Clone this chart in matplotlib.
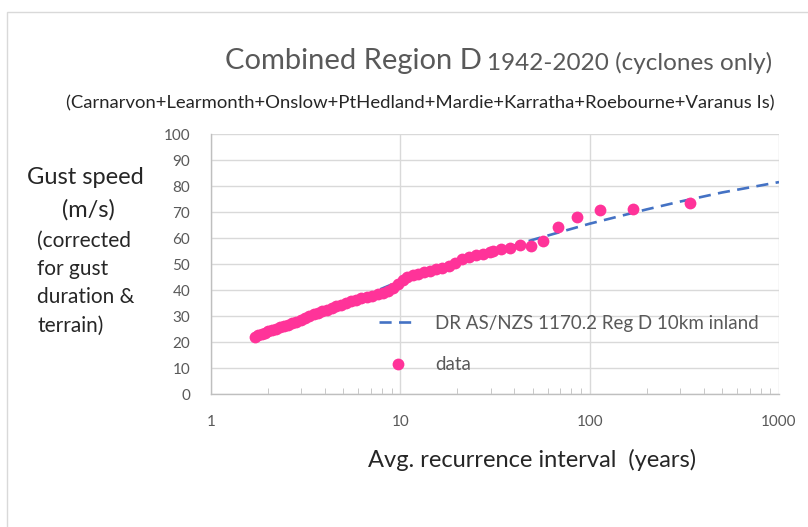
import numpy as np
import matplotlib
matplotlib.use('Agg')
import matplotlib.pyplot as plt
from matplotlib.patches import Rectangle

plt.rcParams['font.family'] = ['Lato', 'DejaVu Sans']

# data (ARI in years, gust speed m/s)
ari = [1.71, 1.78, 1.85, 1.93, 2.01, 2.10, 2.20, 2.31, 2.42, 2.55, 2.68, 2.82,
       2.97, 3.13, 3.30, 3.48, 3.67, 3.88, 4.10, 4.35, 4.60, 4.88, 5.18, 5.50,
       5.85, 6.23, 6.65, 7.10, 7.60, 8.10, 8.65, 9.20, 9.75, 10.3, 10.9, 11.6,
       12.4, 13.3, 14.3, 15.4, 16.6, 18.0, 19.5, 21.2, 23.0, 25.0, 27.3, 29.8,
       30.9, 34.2, 38.0, 43.0, 48.8, 56.7, 68.0, 85.4, 114, 169, 340]
gust = [22.0, 22.6, 23.1, 23.6, 24.1, 24.6, 25.1, 25.6, 26.1, 26.7, 27.2, 27.8,
        28.5, 29.2, 29.9, 30.6, 31.2, 31.8, 32.5, 33.1, 33.7, 34.3, 35.0, 35.6,
        36.3, 36.8, 37.3, 37.8, 38.3, 39.0, 39.8, 40.8, 42.2, 43.8, 45.0, 45.6,
        46.2, 46.8, 47.3, 47.9, 48.6, 49.4, 50.3, 51.8, 52.6, 53.3, 54.0, 54.6,
        55.1, 55.7, 56.3, 57.2, 57.0, 58.8, 64.1, 68.1, 70.7, 71.3, 73.3]

# draft AS/NZS 1170.2 Region D curve
std_ari = [5, 7, 10, 20, 30, 50, 100, 200, 300, 500, 1000]
std_gust = [35.3, 38.8, 43.5, 50.5, 54.3, 59.3, 65.5, 71.0, 74.0, 77.5, 81.5]

grey = '#595959'
dark = '#262626'

fig = plt.figure(figsize=(8.08, 5.27), dpi=100)
fig.patches.append(Rectangle((7/808, -0.05), 1.1, 1 - 12/527 + 0.05,
                             transform=fig.transFigure, fill=False,
                             edgecolor='#D9D9D9', lw=1))
ax = fig.add_axes([211/808, 1 - 394/527, 568/808, 260/527])

ax.plot(std_ari, std_gust, color='#4472C4', lw=1.9, ls=(0, (4.6, 2.8)),
        label='DR AS/NZS 1170.2 Reg D 10km inland', zorder=2)
ax.plot(ari, gust, 'o', color='#FF3399', ms=8.5, mew=0, label='data', zorder=3)

ax.set_xscale('log')
ax.set_xlim(1, 1000)
ax.set_ylim(0, 100)
ax.set_yticks(range(0, 101, 10))
ax.set_xticks([1, 10, 100, 1000])
ax.set_xticklabels(['1', '10', '100', '1000'])
ax.grid(True, which='major', color='#D9D9D9', lw=1)
ax.set_axisbelow(True)
for s in ['top', 'right']:
    ax.spines[s].set_visible(False)
for s in ['left', 'bottom']:
    ax.spines[s].set_color('#BFBFBF')
    ax.spines[s].set_linewidth(1)
ax.tick_params(axis='y', length=0, labelsize=11, labelcolor=grey, pad=15)
ax.tick_params(axis='x', which='major', length=0, labelsize=11,
               labelcolor=grey, pad=15)
ax.tick_params(axis='x', which='minor', direction='in', length=4,
               color='#BFBFBF', labelbottom=False)

leg = ax.legend(loc='upper left', bbox_to_anchor=(362/808, 1 - 298/527),
                bbox_transform=fig.transFigure, frameon=False, fontsize=13.5,
                labelcolor=grey, handlelength=2.0, labelspacing=1.3,
                handletextpad=1.0)

fig.text(225/808, 1 - 61/527, 'Combined Region D', fontsize=21,
         color=grey, va='center')
fig.text(487/808, 1 - 63/527, '1942-2020 (cyclones only)', fontsize=17.5,
         color=grey, va='center')
fig.text(420/808, 1 - 103/527,
         '(Carnarvon+Learmonth+Onslow+PtHedland+Mardie+Karratha+Roebourne+Varanus Is)',
         fontsize=13.3, color=dark, ha='center', va='center')
fig.text(85/808, 1 - 177/527, 'Gust speed', fontsize=17, color=dark,
         ha='center', va='center')
fig.text(88/808, 1 - 210/527, '(m/s)', fontsize=17, color=dark,
         ha='center', va='center')
fig.text(37/808, 1 - 283/527, '(corrected\nfor gust\nduration &\nterrain)',
         fontsize=15, color=dark, ha='left', va='center', linespacing=1.52)
fig.text(532/808, 1 - 460/527, 'Avg. recurrence interval  (years)',
         fontsize=17, color=dark, ha='center', va='center')

fig.savefig('out.png', dpi=100)
